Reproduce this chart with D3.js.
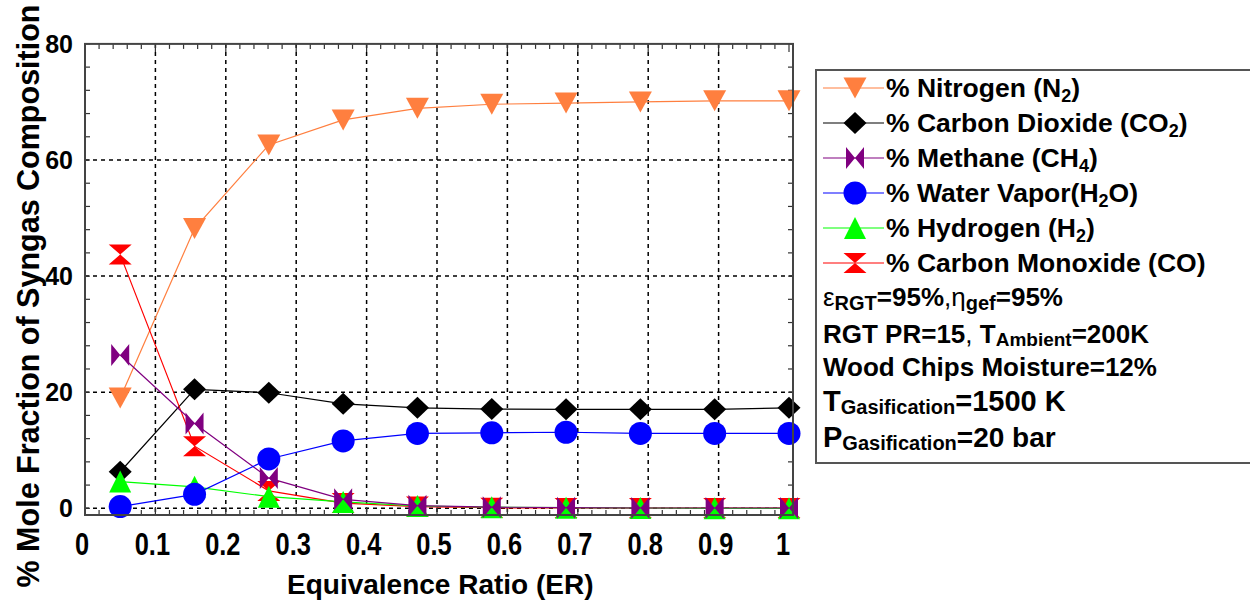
<!DOCTYPE html>
<html>
<head>
<meta charset="utf-8">
<script src="https://cdn.jsdelivr.net/npm/d3@7"></script>
<style>
  body { margin: 0; background: #fff; }
  svg { display: block; font-family: "Liberation Sans", Arial, sans-serif; }
</style>
</head>
<body>
<svg id="chart" width="1250" height="601"></svg>
<script>
// ER values (x) shared by all series
const er = [0.05, 0.1556, 0.2611, 0.3667, 0.4722, 0.5778, 0.6833, 0.7889, 0.8944, 1.0];

// mole fractions
const nitrogen = [19.0, 48.2, 62.6, 66.9, 68.9, 69.6, 69.8, 70.0, 70.2, 70.2];
const carbonDioxide = [6.3, 20.5, 19.9, 18.0, 17.3, 17.1, 17.05, 17.05, 17.05, 17.3];
const methane = [26.4, 14.6, 5.2, 1.55, 0.45, 0.2, 0.1, 0.05, 0.05, 0.05];
const waterVapor = [0.3, 2.4, 8.5, 11.6, 12.9, 13.0, 13.1, 12.9, 12.9, 12.9];
const hydrogen = [4.6, 3.7, 2.0, 1.1, 0.4, 0.2, 0.1, 0.05, 0.0, 0.0];
const carbonMonoxide = [43.7, 10.7, 3.0, 0.9, 0.3, 0.1, 0.05, 0.05, 0.05, 0.05];

const xTicks = [0, 0.1, 0.2, 0.3, 0.4, 0.5, 0.6, 0.7, 0.8, 0.9, 1];
const yTicks = [0, 20, 40, 60, 80];

const svg = d3.select("#chart");

const xScale = d3.scaleLinear().domain([0, 1]).range([85, 789]);
const yScale = d3.scaleLinear().domain([0, 60]).range([508.3, 160]);
const plotLeft = 85, plotRight = 793, plotTop = yScale(80), plotBottom = 515;

// marker shapes
function markerPath(kind) {
    switch (kind) {
        case "triDown": return "M-11.5,-10.5L11.5,-10.5L0,10.5Z";
        case "triUp": return "M-11,11L11,11L0,-11Z";
        case "diamond": return "M0,-11L11.5,0L0,11L-11.5,0Z";
        case "bowtie": return "M-9,-11L0,0L-9,11ZM9,-11L0,0L9,11Z";
        case "hourglass": return "M-11.5,-10L11.5,-10L0,0ZM-11.5,10L11.5,10L0,0Z";
        case "circle": return d3.symbol(d3.symbolCircle, Math.PI * 11.5 * 11.5)();
    }
}

// legend order
const series = [
    { name: "nitrogen", values: nitrogen, color: "#FF7F3F", marker: "triDown", label: ["% Nitrogen (N", "2", ")"] },
    { name: "co2", values: carbonDioxide, color: "#000000", marker: "diamond", label: ["% Carbon Dioxide (CO", "2", ")"] },
    { name: "ch4", values: methane, color: "#800080", marker: "bowtie", label: ["% Methane (CH", "4", ")"] },
    { name: "h2o", values: waterVapor, color: "#0000FF", marker: "circle", label: ["% Water Vapor(H", "2", "O)"] },
    { name: "h2", values: hydrogen, color: "#00FF00", marker: "triUp", label: ["% Hydrogen (H", "2", ")"] },
    { name: "co", values: carbonMonoxide, color: "#FF0000", marker: "hourglass", label: ["% Carbon Monoxide (CO)", "", ""] }
];
// drawing order inside the plot
const drawOrder = ["nitrogen", "co2", "co", "h2", "ch4", "h2o"];

// grid
const grid = svg.append("g")
    .attr("stroke", "#000")
    .attr("stroke-width", 1.5)
    .attr("stroke-dasharray", "4,4");
xTicks.filter(d => d > 0 && d < 1).forEach(d => {
    grid.append("line")
        .attr("x1", xScale(d)).attr("x2", xScale(d))
        .attr("y1", plotTop).attr("y2", plotBottom);
});
yTicks.filter(d => d < 80).forEach(d => {
    grid.append("line")
        .attr("x1", plotLeft).attr("x2", plotRight)
        .attr("y1", yScale(d)).attr("y2", yScale(d));
});

// minor ticks
const ticks = svg.append("g").attr("stroke", "#333").attr("stroke-width", 1.2);
d3.range(0, 81, 4).forEach(v => {
    const y = yScale(v);
    ticks.append("line").attr("x1", plotLeft).attr("x2", plotLeft + 5).attr("y1", y).attr("y2", y);
    ticks.append("line").attr("x1", plotRight - 5).attr("x2", plotRight).attr("y1", y).attr("y2", y);
});
d3.range(0, 51).forEach(i => {
    const x = xScale(i * 0.02);
    const len = i % 5 === 0 ? 8 : 5;
    ticks.append("line").attr("x1", x).attr("x2", x).attr("y1", plotBottom).attr("y2", plotBottom - len);
    ticks.append("line").attr("x1", x).attr("x2", x).attr("y1", plotTop).attr("y2", plotTop + len);
});

// series
const line = d3.line().x((d, i) => xScale(er[i])).y(d => yScale(d));
drawOrder.forEach(key => {
    const s = series.find(d => d.name === key);
    const g = svg.append("g");
    g.append("path")
        .datum(s.values)
        .attr("fill", "none")
        .attr("stroke", s.color)
        .attr("stroke-width", 1.2)
        .attr("d", line);
    g.selectAll("path.marker")
        .data(s.values)
        .join("path")
        .attr("class", "marker")
        .attr("d", markerPath(s.marker))
        .attr("fill", s.color)
        .attr("transform", (d, i) => `translate(${xScale(er[i])},${yScale(d)})`);
});

// frame
svg.append("rect")
    .attr("x", plotLeft).attr("y", plotTop)
    .attr("width", plotRight - plotLeft).attr("height", plotBottom - plotTop)
    .attr("fill", "none").attr("stroke", "#444").attr("stroke-width", 2);

// y tick labels
svg.append("g").selectAll("text")
    .data(yTicks)
    .join("text")
    .attr("x", 73)
    .attr("y", d => yScale(d) + 9)
    .attr("text-anchor", "end")
    .attr("font-size", 25)
    .attr("font-weight", "bold")
    .text(d => d);

// x tick labels (condensed)
svg.append("g").selectAll("text")
    .data(xTicks)
    .join("text")
    .attr("transform", d => `translate(${xScale(d) - (d === 1 ? 6 : 3)},555) scale(0.82,1)`)
    .attr("text-anchor", "middle")
    .attr("font-size", 31)
    .attr("font-weight", "bold")
    .text(d => d);

// axis titles
svg.append("text")
    .attr("x", 287).attr("y", 594)
    .attr("font-size", 28)
    .attr("font-weight", "bold")
    .text("Equivalence Ratio (ER)");

svg.append("text")
    .attr("transform", "translate(39,296) rotate(-90)")
    .attr("text-anchor", "middle")
    .attr("font-size", 30.5)
    .attr("font-weight", "bold")
    .text("% Mole Fraction of Syngas Composition");

// legend box
svg.append("rect")
    .attr("x", 816).attr("y", 70)
    .attr("width", 450).attr("height", 393)
    .attr("fill", "#fff").attr("stroke", "#555").attr("stroke-width", 2);

const legend = svg.append("g");
series.forEach((s, i) => {
    const y = 88 + i * 35;
    legend.append("line")
        .attr("x1", 823).attr("x2", 884)
        .attr("y1", y).attr("y2", y)
        .attr("stroke", s.color).attr("stroke-width", 1.2);
    legend.append("path")
        .attr("d", markerPath(s.marker))
        .attr("fill", s.color)
        .attr("transform", `translate(855,${y})`);
    const t = legend.append("text")
        .attr("x", 886).attr("y", y + 9)
        .attr("font-size", 26.5)
        .attr("font-weight", "bold");
    t.append("tspan").text(s.label[0]);
    if (s.label[1]) {
        t.append("tspan").attr("font-size", 18).attr("dy", 5).text(s.label[1]);
        t.append("tspan").attr("dy", -5).text(s.label[2]);
    }
});

// condition notes
const notes = svg.append("g").attr("font-weight", "bold");
function note(y, parts) {
    const t = notes.append("text").attr("x", 823).attr("y", y);
    let shift = 0;
    parts.forEach(p => {
        const ts = t.append("tspan").text(p.t).attr("font-size", p.size);
        const dy = (p.dy || 0) - shift;
        if (dy) ts.attr("dy", dy);
        shift = p.dy || 0;
        if (p.regular) ts.attr("font-weight", "normal");
    });
}
note(306, [
    { t: "\u03b5", size: 26, regular: true },
    { t: "RGT", size: 20, dy: 4 },
    { t: "=95%", size: 26 },
    { t: ",", size: 26, regular: true },
    { t: "\u03b7", size: 26, regular: true },
    { t: "gef", size: 20, dy: 4 },
    { t: "=95%", size: 26 }
]);
note(343, [
    { t: "RGT PR=15", size: 26 },
    { t: ", ", size: 26, regular: true },
    { t: "T", size: 26 },
    { t: "Ambient", size: 19, dy: 3 },
    { t: "=200K", size: 26 }
]);
note(376, [
    { t: "Wood Chips Moisture=12%", size: 26 }
]);
note(411, [
    { t: "T", size: 29 },
    { t: "Gasification", size: 20, dy: 3 },
    { t: "=1500 K", size: 29 }
]);
note(447, [
    { t: "P", size: 29 },
    { t: "Gasification", size: 20, dy: 3 },
    { t: "=20 bar", size: 28 }
]);
</script>
</body>
</html>
